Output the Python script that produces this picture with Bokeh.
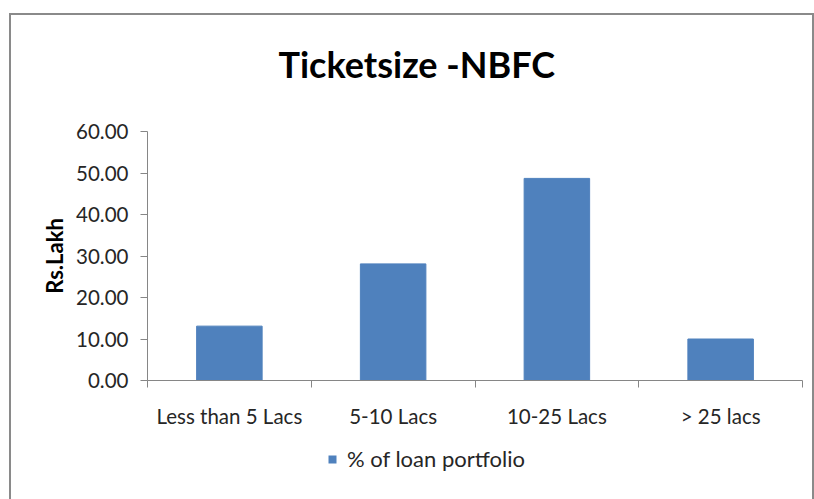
from bokeh.plotting import figure
from bokeh.models import (Range1d, FixedTicker, NumeralTickFormatter, Legend, LegendItem,
                          ColumnDataSource, Title)
from bokeh.layouts import column
from bokeh.embed import file_html
from bokeh.resources import INLINE

# ---- data ----
categories = ["Less than 5 Lacs", "5-10 Lacs", "10-25 Lacs", "> 25 lacs"]
loan_portfolio = [13.1, 28.1, 48.7, 10.0]
series_name = "% of loan portfolio"
y_ticks = [0, 10, 20, 30, 40, 50, 60]
title_text = "Ticketsize -NBFC"
y_label = "Rs.Lakh"

FONT = "Lato"
BAR = "#4F81BD"
AXIS = "#868686"
TXT = "#262626"

centers = [i + 0.5 for i in range(len(categories))]
bounds = [i for i in range(len(categories) + 1)]

src = ColumnDataSource(dict(x=centers, top=loan_portfolio, cat=categories))

p = figure(width=805, height=427, output_backend="svg", toolbar_location=None,
           x_range=Range1d(0, len(categories)), y_range=Range1d(0, 60),
           min_border_left=138, min_border_right=12, min_border_top=118, min_border_bottom=60,
           border_fill_color=None, outline_line_color=None)

r = p.vbar(x="x", top="top", width=0.4, bottom=0, source=src,
           fill_color=BAR, line_color=BAR)

p.xgrid.visible = False
p.ygrid.visible = False

# spacer between title and frame
p.add_layout(Title(text=" ", text_font_size="1px", standoff=43), "above")

# title
p.title.text = title_text
p.title.align = "left"
p.title.offset = 131
p.title.standoff = 0
p.title.text_font = FONT
p.title.text_font_size = "36px"
p.title.text_font_style = "bold"
p.title.text_color = "#000000"

# x axis
xa = p.xaxis[0]
xa.ticker = FixedTicker(ticks=centers, minor_ticks=bounds)
xa.major_label_overrides = {c: lab for c, lab in zip(centers, categories)}
xa.major_tick_line_color = None
xa.major_tick_out = 7
xa.major_tick_in = 0
xa.minor_tick_out = 7
xa.minor_tick_in = 0
xa.minor_tick_line_color = AXIS
xa.axis_line_color = AXIS
xa.major_label_standoff = 16
xa.major_label_text_font = FONT
xa.major_label_text_font_size = "20.5px"
xa.major_label_text_color = TXT

# y axis
ya = p.yaxis[0]
ya.ticker = FixedTicker(ticks=y_ticks, minor_ticks=[])
ya.formatter = NumeralTickFormatter(format="0.00")
ya.major_tick_out = 7
ya.major_tick_in = 0
ya.major_tick_line_color = AXIS
ya.axis_line_color = AXIS
ya.major_label_standoff = 12
ya.major_label_text_font = FONT
ya.major_label_text_font_size = "20.5px"
ya.major_label_text_color = TXT
ya.axis_label = y_label
ya.axis_label_text_font = FONT
ya.axis_label_text_font_size = "22px"
ya.axis_label_text_font_style = "bold"
ya.axis_label_text_color = "#000000"
ya.axis_label_standoff = 5

# ---- legend strip (second canvas under the chart) ----
pl = figure(width=805, height=59, output_backend="svg", toolbar_location=None,
            x_range=Range1d(0, len(categories)), y_range=Range1d(0, 60),
            x_axis_type=None, y_axis_type=None,
            min_border_left=0, min_border_right=0, min_border_top=0, min_border_bottom=0,
            border_fill_color=None, background_fill_color=None, outline_line_color=None)
pl.xgrid.visible = False
pl.ygrid.visible = False
# same series, zero-width here: only its legend swatch shows
rl = pl.vbar(x="x", top="top", width=0, bottom=0, source=src,
             fill_color=BAR, line_color=None)

legend = Legend(items=[LegendItem(label=series_name, renderers=[rl])],
                location=(180, 27), orientation="horizontal",
                glyph_width=10, glyph_height=10, label_standoff=10,
                padding=0, margin=0, spacing=0,
                border_line_color=None, background_fill_alpha=0,
                label_text_font=FONT, label_text_font_size="22px",
                label_text_color=TXT)
pl.add_layout(legend, "center")

layout = column(p, pl, spacing=0)
layout.styles = {"margin-top": "13px", "margin-left": "9px",
                 "box-shadow": "inset 2px 2px 0 #8a8a8a, inset -2px 0 0 #8a8a8a"}

open("out.html", "w").write(file_html(layout, INLINE))
